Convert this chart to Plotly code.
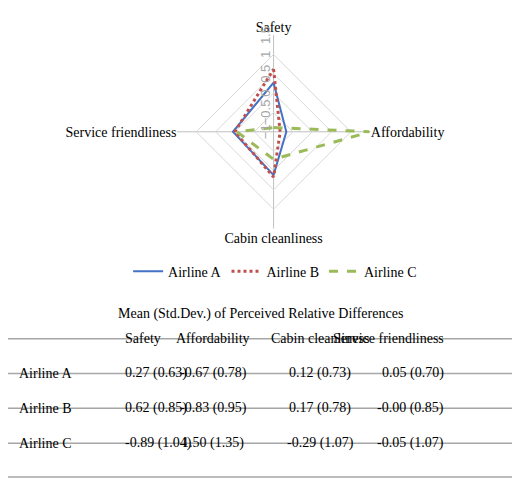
import plotly.graph_objects as go

categories = ["Safety", "Affordability", "Cabin cleanliness", "Service friendliness"]
airlines = ["Airline A", "Airline B", "Airline C"]
means_a = [0.27, -0.67, 0.12, 0.05]
means_b = [0.62, -0.83, 0.17, -0.00]
means_c = [-0.89, 1.50, -0.29, -0.05]
std_a = [0.63, 0.78, 0.73, 0.70]
std_b = [0.85, 0.95, 0.78, 0.85]
std_c = [1.04, 1.35, 1.07, 1.07]
radial_ticks = [-1, -0.5, 0, 0.5, 1, 1.5]

means = [means_a, means_b, means_c]
stds = [std_a, std_b, std_c]
styles = [("#4472C4", "solid"), ("#C0504D", "dot"), ("#9BBB59", "dash")]

W, H = 520, 486
FONT = "Liberation Serif"
FS = 14

fig = go.Figure()
for name, m, (col, dash) in zip(airlines, means, styles):
    fig.add_trace(go.Scatterpolar(
        r=m + [m[0]], theta=categories + [categories[0]], mode="lines", name=name,
        line=dict(color=col, dash=dash, width=3 if dash != "solid" else 2),
    ))

fig.update_layout(
    autosize=True, margin=dict(l=0, r=0, t=0, b=0),
    paper_bgcolor="white", plot_bgcolor="white",
    font=dict(family=FONT, size=FS, color="black"),
    showlegend=True,
    legend=dict(orientation="h", x=0.53, y=1 - 256 / H, xanchor="center", yanchor="top",
                font=dict(size=FS)),
    polar=dict(
        domain=dict(x=[174 / W, 374 / W], y=[1 - 228 / H, 1 - 28 / H]),
        gridshape="linear", bgcolor="white",
        angularaxis=dict(rotation=90, direction="clockwise", linecolor="#d9d9d9",
                         gridcolor="#bfbfbf", tickfont=dict(size=FS), showline=False),
        radialaxis=dict(range=[-1, 1.5], tickvals=radial_ticks, angle=90, tickangle=0,
                        side="counterclockwise", gridcolor="#d9d9d9", showline=False,
                        tickfont=dict(color="#a6a6a6", size=13, family="Liberation Sans")),
    ),
)

# table below the radar, built from the same values
ann = [dict(text="Mean (Std.Dev.) of Perceived Relative Differences", x=0.5, y=1 - 316 / H,
            xref="paper", yref="paper", showarrow=False, font=dict(size=FS))]
col_x = [119, 212, 322, 452]
for cx, c in zip(col_x, categories):
    ann.append(dict(text=c, x=cx / W, y=1 - 352 / H, xref="paper", yref="paper",
                    showarrow=False, font=dict(size=FS)))
for i, (name, m, s) in enumerate(zip(airlines, means, stds)):
    ry = 388 + 36 * i
    ann.append(dict(text=name, x=9 / W, y=1 - ry / H, xref="paper", yref="paper",
                    xanchor="left", showarrow=False, font=dict(size=FS)))
    for cx, mv, sv in zip(col_x, m, s):
        ann.append(dict(text=f"{mv:.2f} ({sv:.2f})", x=cx / W, y=1 - ry / H,
                        xref="paper", yref="paper", showarrow=False, font=dict(size=FS)))
fig.update_layout(annotations=ann)

for ly in [342, 378, 414, 450, 485]:
    fig.add_shape(type="line", xref="paper", yref="paper", x0=0, x1=1,
                  y0=1 - ly / H, y1=1 - ly / H, line=dict(color="#a6a6a6", width=1.5))

fig.write_html("out.html")
